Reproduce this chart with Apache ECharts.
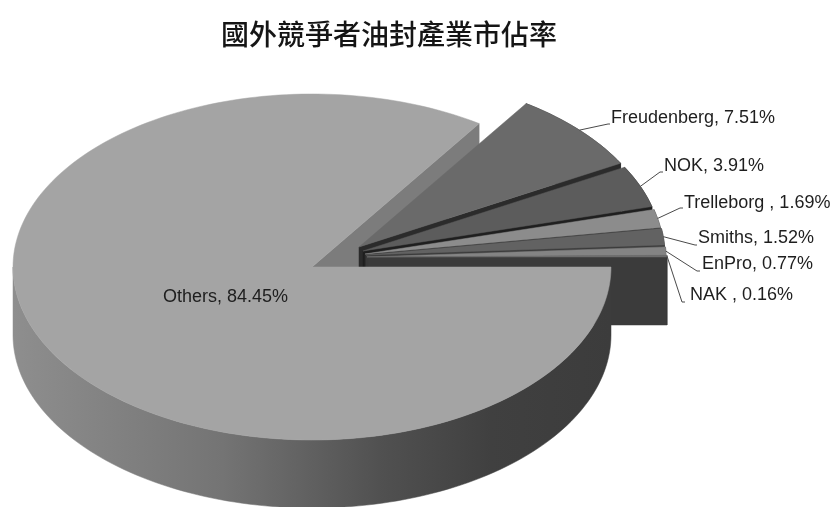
<!DOCTYPE html>
<html>
<head>
<meta charset="utf-8">
<title>國外競爭者油封產業市佔率</title>
<style>
html, body { margin: 0; padding: 0; background: #fff; }
#chart { width: 832px; height: 507px; }
</style>
</head>
<body>
<div id="chart"></div>
<script src="https://cdn.jsdelivr.net/npm/echarts@6/dist/echarts.min.js"></script>
<script>
// angles run counter-clockwise from 3 o'clock, NAK first
const names = ["NAK ", "EnPro", "Smiths", "Trelleborg ", "NOK", "Freudenberg", "Others"];
const shares = [0.16, 0.77, 1.52, 1.69, 3.91, 7.51, 84.45];

const topColors = ["#6e6e6e", "#848484", "#626262", "#8c8c8c", "#5c5c5c", "#6a6a6a", "#a4a4a4"];
const wallColors = ["#3b3b3b", "#3b3b3b", "#3b3b3b", "#2e2e2e", "#1f1f1f", "#2b2b2b", "#7c7c7c"];
// where each slice's centre sits after being pulled out
const centres = [[368, 257], [367, 257], [366, 255], [365, 254], [363, 251], [359, 247], [312, 267]];
// end of the leader line and where the label text starts
const labelSpots = [
  [[682, 302], [685, 302], [690, 295]],
  [[697, 271], [700, 271], [702, 264]],
  [[695, 245], [697, 245], [698, 238]],
  [[680, 208], [683, 208], [684, 203]],
  [[660, 172], [663, 172], [664, 166]],
  [[608, 124], [610, 124], [611, 118]],
];
const othersLabel = [163, 297];

const rx = 299;
const ry = 173;
const depth = 68;

const total = shares.reduce((a, b) => a + b, 0);
let sum = 0;
const slices = shares.map((v) => {
  const start = sum;
  sum += (v / total) * 360;
  return [start, sum];
});

function rim(c, deg, drop) {
  const a = (deg * Math.PI) / 180;
  return [c[0] + rx * Math.cos(a), c[1] - ry * Math.sin(a) + (drop || 0)];
}

function arc(c, from, to, drop) {
  const pts = [];
  const n = Math.max(2, Math.ceil(Math.abs(to - from) / 1.5));
  for (let i = 0; i <= n; i++) {
    pts.push(rim(c, from + ((to - from) * i) / n, drop));
  }
  return pts;
}

function poly(points, fill, stroke) {
  return {
    type: "polygon",
    shape: { points: points },
    style: { fill: fill, stroke: stroke || fill, lineWidth: 0.5 },
  };
}

function cutWall(c, deg, fill) {
  const d = [c[0], c[1] + depth];
  return poly([c, rim(c, deg), rim(c, deg, depth), d], fill);
}

function renderSlice(params) {
  const i = params.dataIndex;
  const c = centres[i];
  const [from, to] = slices[i];
  const children = [];

  if (i < 6) {
    children.push(cutWall(c, from, wallColors[i]));
    // only a sliver of the outer wall shows under the rim
    children.push(poly(arc(c, to, from, 0).concat(arc(c, from, to, depth)), wallColors[i]));
    children.push(poly([c].concat(arc(c, from, to)), topColors[i]));
  } else {
    const wallFill = new echarts.graphic.LinearGradient(0, 0, 1, 0, [
      { offset: 0, color: "#8e8e8e" },
      { offset: 0.35, color: "#747474" },
      { offset: 0.62, color: "#505050" },
      { offset: 0.8, color: "#404040" },
      { offset: 1, color: "#3c3c3c" },
    ]);
    children.push(poly(arc(c, 180, 360, 0).concat(arc(c, 360, 180, depth)), wallFill));
    // Others wraps round from 3 o'clock clockwise to the gap
    children.push(poly([c].concat(arc(c, 0, -(360 - from))), topColors[i]));
  }
  return { type: "group", children: children };
}

function renderLabel(params) {
  const i = params.dataIndex;
  const text = names[i] + ", " + shares[i].toFixed(2) + "%";
  const font = { fontSize: 18, fontFamily: "Liberation Sans", fill: "#1e1e1e" };
  if (i === 6) {
    return {
      type: "text",
      style: Object.assign({ text: text, x: othersLabel[0], y: othersLabel[1], verticalAlign: "middle" }, font),
    };
  }
  const mid = (slices[i][0] + slices[i][1]) / 2;
  const spot = labelSpots[i];
  return {
    type: "group",
    children: [
      {
        type: "polyline",
        shape: { points: [rim(centres[i], mid), spot[0], spot[1]] },
        style: { stroke: "#4a4a4a", lineWidth: 1, fill: null },
      },
      {
        type: "text",
        style: Object.assign({ text: text, x: spot[2][0], y: spot[2][1], verticalAlign: "middle" }, font),
      },
    ],
  };
}

// back to front: the exploded slices go Freudenberg first, Others on top
const order = [5, 4, 3, 2, 1, 0, 6];
const chart = echarts.init(document.getElementById("chart"));
chart.setOption({
  animation: false,
  backgroundColor: "#fff",
  title: {
    text: "國外競爭者油封產業市佔率",
    left: 216,
    top: 15,
    textStyle: { fontFamily: "Noto Sans CJK TC", fontSize: 28, fontWeight: 500, color: "#151515" },
  },
  series: [
    {
      type: "custom",
      coordinateSystem: "none",
      silent: true,
      z: 1,
      data: [shares[6]],
      renderItem: () => cutWall(centres[6], slices[6][0], wallColors[6]),
    },
    ...order.map((i, n) => ({
      type: "custom",
      coordinateSystem: "none",
      silent: true,
      z: 2 + n,
      data: shares,
      renderItem: (params) => (params.dataIndex === i ? renderSlice(params) : null),
    })),
    {
      type: "custom",
      coordinateSystem: "none",
      silent: true,
      z: 20,
      data: shares,
      renderItem: renderLabel,
    },
  ],
});
</script>
</body>
</html>
